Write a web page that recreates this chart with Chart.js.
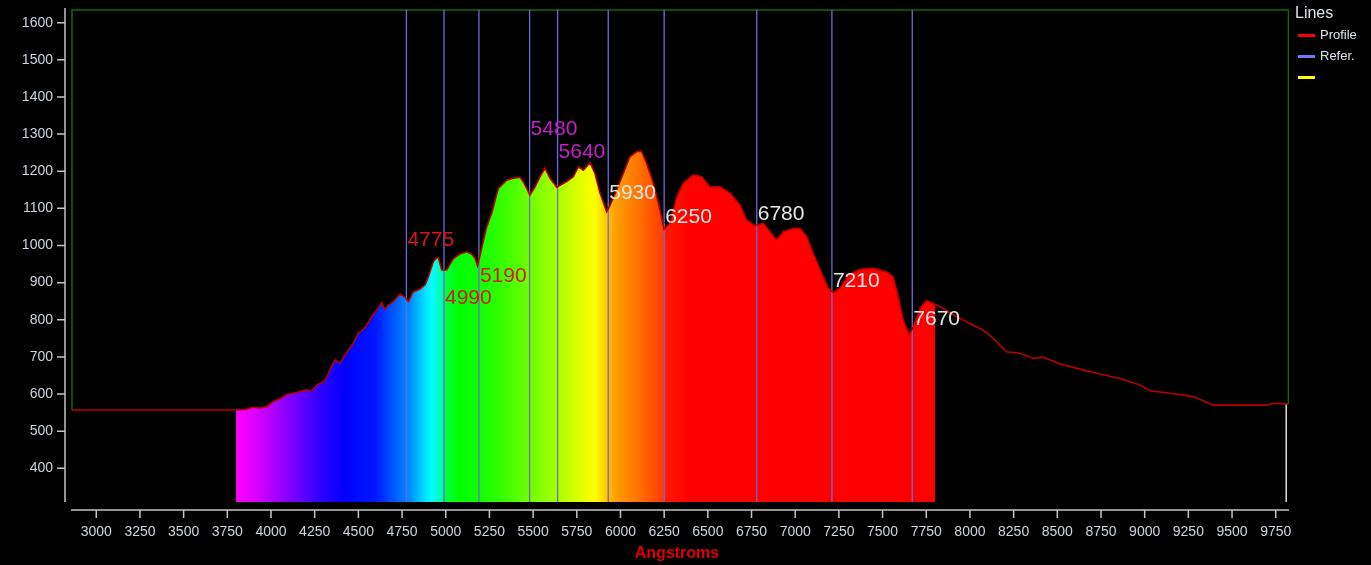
<!DOCTYPE html>
<html>
<head>
<meta charset="utf-8">
<script src="https://cdn.jsdelivr.net/npm/chart.js@4.4.1/dist/chart.umd.min.js"></script>
<style>
  html, body { margin: 0; padding: 0; background: #000; overflow: hidden; }
  canvas { display: block; }
</style>
</head>
<body>
<canvas id="spectrum" width="1371" height="565"></canvas>
<script>
// Intensity profile of the spectrum (wavelength in Angstroms, intensity in counts)
const profileWavelengths = [
  2861, 3800, 3861, 3897, 3937, 3975, 4011, 4051, 4090, 4147, 4204, 4233, 4261, 4309, 4337,
  4366, 4395, 4433, 4471, 4499, 4528, 4548, 4576, 4605, 4633, 4652, 4671, 4700, 4738, 4767,
  4786, 4814, 4853, 4882, 4900, 4929, 4944, 4957, 4977, 5005, 5043, 5081, 5120, 5148, 5167,
  5182, 5206, 5234, 5263, 5301, 5349, 5387, 5425, 5448, 5482, 5511, 5539, 5568, 5597, 5635,
  5692, 5730, 5759, 5787, 5826, 5854, 5883, 5921, 5936, 5978, 6016, 6054, 6093, 6121, 6150,
  6188, 6226, 6249, 6283, 6322, 6359, 6417, 6465, 6512, 6570, 6627, 6684, 6722, 6770, 6817,
  6856, 6894, 6932, 6989, 7027, 7066, 7103, 7152, 7189, 7218, 7256, 7304, 7371, 7447, 7524,
  7561, 7590, 7619, 7653, 7676, 7714, 7752, 7790, 7800, 7829, 7924, 8000, 8076, 8134, 8210,
  8286, 8363, 8420, 8515, 8630, 8744, 8859, 8973, 9030, 9145, 9278, 9355, 9393, 9698, 9736,
  9823
];
const profileIntensities = [
  557, 557, 559, 565, 562, 566, 579, 587, 599, 604, 611, 609, 624, 635, 665,
  692, 684, 711, 737, 764, 774, 786, 808, 826, 846, 828, 840, 849, 869, 861,
  849, 875, 883, 894, 915, 956, 965, 968, 934, 934, 964, 977, 983, 977, 966,
  945, 993, 1050, 1087, 1154, 1176, 1181, 1184, 1168, 1136, 1158, 1185, 1208, 1181, 1157,
  1172, 1185, 1212, 1203, 1223, 1194, 1141, 1091, 1104, 1149, 1194, 1239, 1253, 1253, 1221,
  1168, 1096, 1044, 1060, 1131, 1168, 1190, 1185, 1158, 1158, 1141, 1109, 1069, 1053, 1060,
  1037, 1015, 1037, 1046, 1046, 1024, 979, 925, 885, 873, 885, 921, 936, 939, 929,
  916, 862, 799, 759, 781, 831, 851, 844, 842, 835, 808, 790, 772, 750, 714,
  710, 696, 699, 681, 667, 654, 642, 624, 609, 602, 593, 578, 570, 570, 575,
  573
];

// Reference lines and the levels at which their wavelength labels sit
const refWavelengths = [4775, 4990, 5190, 5480, 5640, 5930, 6250, 6780, 7210, 7670];
const refLabelLevels = [1015, 858, 916, 1312, 1250, 1142, 1075, 1083, 904, 802];
const refLabelColors = ['#d81616', '#d81616', '#d81616', '#c81ec8', '#c81ec8',
                        '#e6e6e6', '#e6e6e6', '#e6e6e6', '#e6e6e6', '#e6e6e6'];

// Axis ticks
const xTicks = [3000, 3250, 3500, 3750, 4000, 4250, 4500, 4750, 5000, 5250, 5500, 5750, 6000, 6250,
                6500, 6750, 7000, 7250, 7500, 7750, 8000, 8250, 8500, 8750, 9000, 9250, 9500, 9750];
const yTicks = [400, 500, 600, 700, 800, 900, 1000, 1100, 1200, 1300, 1400, 1500, 1600];

// Legend entries
const legendNames = ['Profile', 'Refer.', ''];
const legendColors = ['#ff0000', '#7474ff', '#ffff00'];

// Visible part of the spectrum that gets the rainbow fill
const spectrumRange = [3800, 7800];
// Plot frame (left, right wavelength; top intensity) and the end marker
const frameBounds = [2861, 9823, 1634];
const endMarker = [9810, 573];

const X_MIN = 2821, X_MAX = 9826, Y_MIN = 309.2, Y_MAX = 1639.6;

const spectrumColors = [
  [3800, '#ff00ff'], [3940, '#d000ff'], [4110, '#8000ff'], [4280, '#3000ff'], [4425, '#0000ff'],
  [4600, '#0018ff'], [4715, '#0060ff'], [4800, '#0090ff'], [4880, '#00e0ff'], [4920, '#00ffff'],
  [4975, '#00ffb0'], [4995, '#00ff40'], [5080, '#00ff00'], [5190, '#10ff00'], [5310, '#30ff00'],
  [5480, '#70ff00'], [5640, '#a8ff00'], [5770, '#e0ff00'], [5855, '#ffff00'], [5910, '#ffd000'],
  [5970, '#ffa000'], [6110, '#ff7000'], [6250, '#ff3800'], [6260, '#ff1800'], [6400, '#ff0000'],
  [7800, '#ff0000']
];

const FONT = "'Liberation Sans', Arial, sans-serif";

const profilePoints = profileWavelengths.map((w, i) => ({ x: w, y: profileIntensities[i] }));
const spectrumPoints = profilePoints.filter(p => p.x >= spectrumRange[0] && p.x <= spectrumRange[1]);

const refPoints = [];
refWavelengths.forEach(w => {
  refPoints.push({ x: w, y: Y_MIN }, { x: w, y: frameBounds[2] }, { x: w, y: null });
});

const framePoints = [
  { x: frameBounds[0], y: profileIntensities[0] },
  { x: frameBounds[0], y: frameBounds[2] },
  { x: frameBounds[1], y: frameBounds[2] },
  { x: frameBounds[1], y: profileIntensities[profileIntensities.length - 1] }
];

const markerPoints = [{ x: endMarker[0], y: endMarker[1] }, { x: endMarker[0], y: Y_MIN }];

function rainbow(context) {
  const chart = context.chart;
  const { ctx, chartArea, scales } = chart;
  if (!chartArea || !scales.x) return 'rgba(0,0,0,0)';
  const x0 = scales.x.getPixelForValue(spectrumRange[0]);
  const x1 = scales.x.getPixelForValue(spectrumRange[1]);
  const g = ctx.createLinearGradient(x0, 0, x1, 0);
  const span = spectrumRange[1] - spectrumRange[0];
  spectrumColors.forEach(([w, c]) => g.addColorStop((w - spectrumRange[0]) / span, c));
  return g;
}

// Axis lines and tick marks, detached from the plot area
const axisPainter = {
  id: 'axisPainter',
  afterDraw(chart) {
    const { ctx, chartArea: a, scales: { x, y } } = chart;
    ctx.save();
    ctx.strokeStyle = '#c4c4c4';
    ctx.lineWidth = 1.5;
    ctx.beginPath();
    ctx.moveTo(a.left, a.top);
    ctx.lineTo(a.left, a.bottom);
    yTicks.forEach(v => {
      const p = y.getPixelForValue(v);
      ctx.moveTo(a.left - 8, p);
      ctx.lineTo(a.left, p);
    });
    const ay = a.bottom + 8;
    ctx.moveTo(a.left + 6, ay);
    ctx.lineTo(a.right, ay);
    xTicks.forEach(v => {
      const p = x.getPixelForValue(v);
      ctx.moveTo(p, ay);
      ctx.lineTo(p, ay + 8);
    });
    ctx.stroke();
    ctx.restore();
  }
};

// Wavelength labels next to the reference lines, and the legend box
const annotations = {
  id: 'annotations',
  afterDatasetsDraw(chart) {
    const { ctx, scales: { x, y } } = chart;
    ctx.save();
    ctx.font = '21px ' + FONT;
    ctx.textAlign = 'left';
    ctx.textBaseline = 'middle';
    refWavelengths.forEach((w, i) => {
      ctx.fillStyle = refLabelColors[i];
      ctx.fillText(String(w), x.getPixelForValue(w) + 1, y.getPixelForValue(refLabelLevels[i]));
    });

    const lx = 1295;
    ctx.fillStyle = '#dde3ea';
    ctx.font = '16px ' + FONT;
    ctx.fillText('Lines', lx, 14);
    ctx.font = '13px ' + FONT;
    legendNames.forEach((name, i) => {
      const cy = 35.5 + i * 21;
      ctx.fillStyle = legendColors[i];
      ctx.fillRect(lx + 3, cy - 1.5, 17, 3);
      ctx.fillStyle = '#dde3ea';
      ctx.fillText(name, lx + 25, cy);
    });
    ctx.restore();
  }
};

const plainNumber = v => String(v);

new Chart(document.getElementById('spectrum'), {
  type: 'line',
  data: {
    datasets: [
      { label: 'Profile', data: profilePoints, borderColor: '#b80000', borderWidth: 1.6,
        pointRadius: 0, fill: false, order: 1 },
      { label: 'Refer.', data: refPoints, borderColor: '#6a6ae0', borderWidth: 1.3,
        pointRadius: 0, fill: false, spanGaps: false, order: 2 },
      { label: 'end', data: markerPoints, borderColor: '#dcdcdc', borderWidth: 1.5,
        pointRadius: 0, fill: false, order: 3 },
      { label: 'frame', data: framePoints, borderColor: '#0d6a0d', borderWidth: 1.5,
        pointRadius: 0, fill: false, order: 4 },
      { label: 'spectrum', data: spectrumPoints, borderWidth: 0, borderColor: 'rgba(0,0,0,0)',
        backgroundColor: rainbow, pointRadius: 0, fill: 'start', order: 5 }
    ]
  },
  options: {
    responsive: false,
    animation: false,
    devicePixelRatio: 1,
    layout: { padding: { top: 8, right: 82, bottom: 0, left: 0 } },
    plugins: { legend: { display: false }, tooltip: { enabled: false } },
    elements: { line: { tension: 0 } },
    scales: {
      x: {
        type: 'linear', min: X_MIN, max: X_MAX,
        afterFit(s) { s.height = 63; s.paddingLeft = 0; s.paddingRight = 0; },
        afterBuildTicks(s) { s.ticks = xTicks.map(v => ({ value: v })); },
        grid: { display: false, drawTicks: false },
        border: { display: false },
        ticks: { color: '#cdd5e0', font: { family: FONT, size: 14 }, padding: 22,
                 autoSkip: false, maxRotation: 0, minRotation: 0, callback: plainNumber },
        title: { display: true, text: 'Angstroms', color: '#e00000',
                 font: { family: FONT, size: 16, weight: 'bold' }, padding: { top: 0, bottom: 2 } }
      },
      y: {
        type: 'linear', min: Y_MIN, max: Y_MAX,
        afterFit(s) { s.width = 65; s.paddingTop = 0; s.paddingBottom = 0; },
        afterBuildTicks(s) { s.ticks = yTicks.map(v => ({ value: v })); },
        grid: { display: false, drawTicks: false },
        border: { display: false },
        ticks: { color: '#cdd5e0', font: { family: FONT, size: 14 }, padding: 12,
                 callback: plainNumber }
      }
    }
  },
  plugins: [axisPainter, annotations]
});
</script>
</body>
</html>
